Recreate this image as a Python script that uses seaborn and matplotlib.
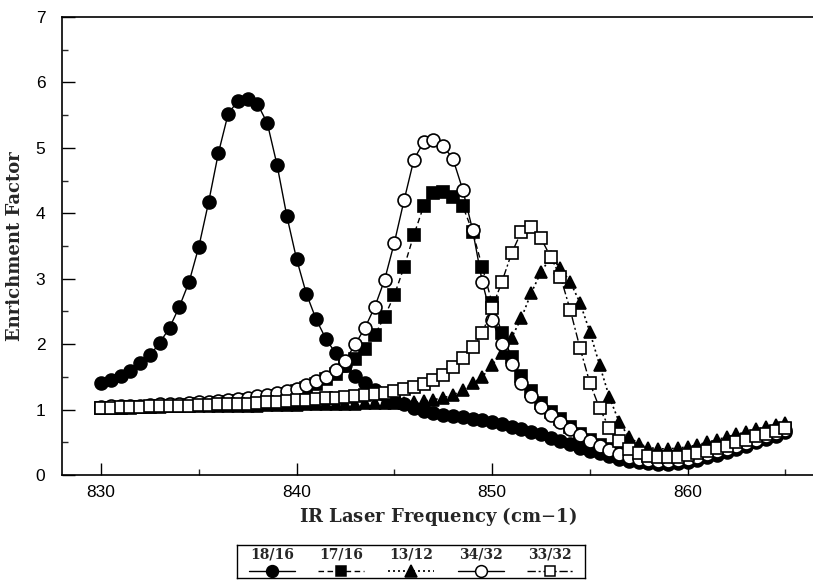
import numpy as np
import pandas as pd
import matplotlib
matplotlib.use("Agg")
import matplotlib.pyplot as plt
import seaborn as sns

# ---- data ----
freq = [830 + 0.5 * i for i in range(71)]

r18_16 = [1.40, 1.45, 1.51, 1.59, 1.71, 1.83, 2.02, 2.25, 2.57, 2.95,
          3.49, 4.17, 4.92, 5.52, 5.72, 5.75, 5.67, 5.38, 4.74, 3.96,
          3.30, 2.77, 2.38, 2.08, 1.86, 1.68, 1.52, 1.40, 1.30, 1.22,
          1.15, 1.09, 1.03, 0.98, 0.95, 0.92, 0.90, 0.88, 0.86, 0.84,
          0.81, 0.78, 0.74, 0.70, 0.66, 0.62, 0.57, 0.52, 0.47, 0.42,
          0.37, 0.33, 0.29, 0.25, 0.22, 0.20, 0.18, 0.17, 0.17, 0.18,
          0.20, 0.23, 0.27, 0.31, 0.35, 0.40, 0.45, 0.50, 0.55, 0.60,
          0.65]

r17_16 = [1.02, 1.02, 1.03, 1.03, 1.04, 1.04, 1.05, 1.05, 1.06, 1.07,
          1.08, 1.09, 1.10, 1.11, 1.13, 1.14, 1.16, 1.18, 1.21, 1.24,
          1.28, 1.33, 1.39, 1.46, 1.55, 1.66, 1.78, 1.93, 2.14, 2.42,
          2.75, 3.18, 3.67, 4.11, 4.31, 4.33, 4.25, 4.11, 3.72, 3.18,
          2.63, 2.17, 1.80, 1.52, 1.28, 1.10, 0.96, 0.85, 0.74, 0.63,
          0.54, 0.46, 0.39, 0.33, 0.29, 0.26, 0.24, 0.23, 0.23, 0.24,
          0.26, 0.29, 0.33, 0.37, 0.41, 0.46, 0.50, 0.55, 0.60, 0.65,
          0.70]

r13_12 = [1.03, 1.03, 1.03, 1.04, 1.04, 1.04, 1.04, 1.05, 1.05, 1.05,
          1.05, 1.05, 1.06, 1.06, 1.06, 1.06, 1.06, 1.07, 1.07, 1.07,
          1.07, 1.08, 1.08, 1.08, 1.09, 1.09, 1.09, 1.10, 1.10, 1.10,
          1.10, 1.10, 1.11, 1.13, 1.15, 1.18, 1.22, 1.30, 1.40, 1.50,
          1.68, 1.87, 2.10, 2.40, 2.78, 3.10, 3.33, 3.16, 2.95, 2.63,
          2.19, 1.68, 1.19, 0.81, 0.58, 0.48, 0.42, 0.40, 0.40, 0.41,
          0.43, 0.46, 0.50, 0.54, 0.58, 0.62, 0.66, 0.70, 0.73, 0.77,
          0.80]

r34_32 = [1.04, 1.05, 1.05, 1.06, 1.06, 1.07, 1.08, 1.08, 1.09, 1.10,
          1.11, 1.12, 1.13, 1.15, 1.16, 1.18, 1.20, 1.22, 1.25, 1.28,
          1.32, 1.37, 1.43, 1.50, 1.60, 1.75, 2.00, 2.25, 2.57, 2.98,
          3.55, 4.20, 4.82, 5.09, 5.12, 5.03, 4.83, 4.36, 3.75, 2.95,
          2.37, 2.00, 1.70, 1.40, 1.20, 1.04, 0.92, 0.81, 0.71, 0.61,
          0.52, 0.45, 0.38, 0.32, 0.28, 0.25, 0.23, 0.22, 0.22, 0.23,
          0.25, 0.28, 0.32, 0.36, 0.40, 0.45, 0.49, 0.54, 0.59, 0.64,
          0.69]

r33_32 = [1.03, 1.03, 1.04, 1.04, 1.04, 1.05, 1.05, 1.05, 1.06, 1.06,
          1.07, 1.07, 1.08, 1.08, 1.09, 1.09, 1.10, 1.11, 1.12, 1.13,
          1.14, 1.15, 1.16, 1.17, 1.18, 1.19, 1.21, 1.22, 1.24, 1.26,
          1.28, 1.31, 1.35, 1.39, 1.45, 1.53, 1.65, 1.79, 1.96, 2.17,
          2.55, 2.95, 3.39, 3.72, 3.79, 3.62, 3.33, 3.03, 2.52, 1.94,
          1.41, 1.02, 0.72, 0.52, 0.40, 0.33, 0.29, 0.27, 0.27, 0.28,
          0.30, 0.33, 0.37, 0.41, 0.45, 0.50, 0.54, 0.59, 0.63, 0.68,
          0.72]

labels = ["18/16", "17/16", "13/12", "34/32", "33/32"]
x_ticks = [830, 840, 850, 860]
y_ticks = [0, 1, 2, 3, 4, 5, 6, 7]

# ---- styles ----
styles = [
    dict(marker="o", linestyle="-", mfc="black", ms=9.3, lw=1.0),
    dict(marker="s", linestyle=(0, (4, 2.5)), mfc="black", ms=8.2, lw=1.0),
    dict(marker="^", linestyle=(0, (1.2, 1.8)), mfc="black", ms=9.3, lw=1.2),
    dict(marker="o", linestyle="-", mfc="white", ms=9.3, lw=1.0),
    dict(marker="s", linestyle=(0, (6, 2, 1.5, 2)), mfc="white", ms=8.2, lw=1.0),
]
series = [r18_16, r17_16, r13_12, r34_32, r33_32]

sns.set_theme(style="ticks")
plt.rcParams["font.family"] = ["DejaVu Sans"]

fig = plt.figure(figsize=(8.13, 5.87), dpi=100)
ax = fig.add_axes([62 / 813, 1 - 475 / 587, 1 - 62 / 813 + 0.002, (475 - 17) / 587])

for lab, vals, st in zip(labels, series, styles):
    sns.lineplot(x=freq, y=vals, ax=ax, color="black", marker=st["marker"],
                 linestyle=st["linestyle"], markersize=st["ms"],
                 markerfacecolor=st["mfc"], markeredgecolor="black",
                 markeredgewidth=1.2, linewidth=st["lw"], legend=False)

ax.set_xlim(828.0, 866.5)
ax.set_ylim(0, 7)
ax.set_xticks(x_ticks)
ax.set_yticks(y_ticks)
ax.set_xticks([835, 845, 855, 865], minor=True)
ax.set_yticks(np.arange(0.5, 7, 1.0), minor=True)
ax.tick_params(axis="both", which="major", direction="in", length=9, width=1.0,
               labelsize=12.5, colors="black")
ax.tick_params(axis="x", which="major", pad=7)
ax.tick_params(axis="y", which="major", pad=12)
ax.tick_params(axis="both", which="minor", direction="in", length=4, width=1.0)
for lbl in ax.get_xticklabels() + ax.get_yticklabels():
    lbl.set_family("Liberation Sans")
ax.spines["right"].set_visible(False)
for s in ["left", "bottom", "top"]:
    ax.spines[s].set_linewidth(1.2)
    ax.spines[s].set_color("black")

ax.set_xlabel("IR Laser Frequency (cm$-$1)", family="DejaVu Serif",
              fontweight="bold", fontsize=13, labelpad=4)
ax.set_ylabel("Enrichment Factor", family="DejaVu Serif",
              fontweight="bold", fontsize=13, labelpad=8)

# ---- legend panel ----
lax = fig.add_axes([237 / 813, 1 - 578 / 587, (585 - 237) / 813, (578 - 545) / 587])
lax.set_xlim(0, 5)
lax.set_ylim(0, 1)
lax.set_xticks([])
lax.set_yticks([])
for s in lax.spines.values():
    s.set_linewidth(1.0)
    s.set_color("black")
lax.set_facecolor("white")
for i, (lab, st) in enumerate(zip(labels, styles)):
    cx = i + 0.5
    lax.plot([cx - 0.33, cx + 0.33], [0.2, 0.2], color="black",
             linestyle=st["linestyle"], linewidth=st["lw"])
    lax.plot([cx], [0.2], marker=st["marker"], color="black",
             markersize=st["ms"] - 0.8, markerfacecolor=st["mfc"],
             markeredgecolor="black", markeredgewidth=1.1)
    lax.text(cx, 0.7, lab, ha="center", va="center", fontsize=10,
             family="DejaVu Serif", fontweight="bold")

fig.savefig("out.png", dpi=100, facecolor="white")
